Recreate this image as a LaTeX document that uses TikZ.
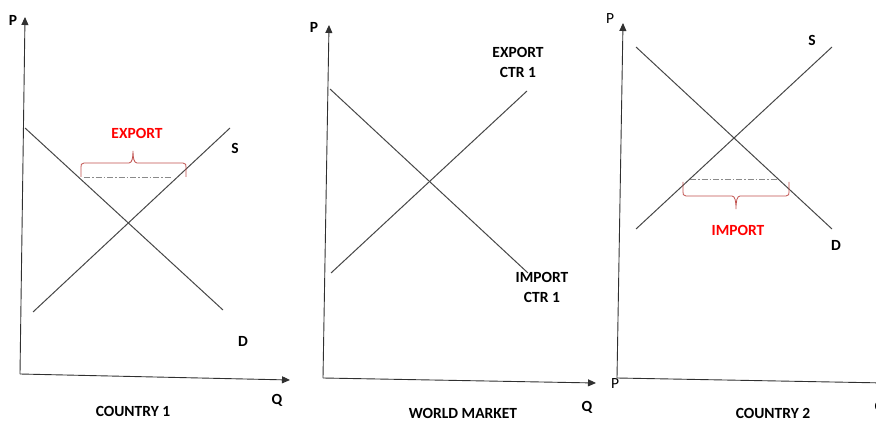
\documentclass[tikz,border=0pt]{standalone}
\usepackage{fontspec}
\setmainfont{Carlito}
\usetikzlibrary{arrows.meta}
\definecolor{curve}{HTML}{474747}
\definecolor{axisc}{HTML}{303030}
\definecolor{bracec}{HTML}{C0504D}
\definecolor{dashc}{HTML}{8A8A8A}
\begin{document}
\begin{tikzpicture}[x=1pt,y=-1pt,
  lbl/.style={inner sep=0pt,font=\fontsize{15.5}{20}\selectfont\bfseries,align=center},
  plain/.style={inner sep=0pt,font=\fontsize{15.5}{20}\selectfont},
  redlbl/.style={lbl,text=red},
  axis/.style={draw=axisc,line width=0.9pt,-{Triangle[length=8pt,width=7pt]}},
  curveline/.style={draw=curve,line width=1pt},
  bracel/.style={draw=bracec,line width=0.8pt},
  dashl/.style={draw=dashc,line width=1pt,dash pattern=on 6pt off 2pt on 1.5pt off 2pt}]
\useasboundingbox (0,0) rectangle (876,422);
% ---------- Panel 1: Country 1 ----------
\coordinate (o1) at (20,374);
\coordinate (py1) at (25,17);
\coordinate (qx1) at (290,380);
\draw[axis] (o1) -- (py1);
\draw[axis] (o1) -- (qx1);
\coordinate (d1a) at (25,128);  \coordinate (d1b) at (223,310);
\coordinate (s1a) at (33,312);  \coordinate (s1b) at (230,128);
\draw[curveline] (d1a) -- (d1b);
\draw[curveline] (s1a) -- (s1b);
\coordinate (x1a) at (84,178); \coordinate (x1b) at (172,178);
\draw[dashl] (x1a) -- (x1b);
\draw[bracel] (81,177) -- (81,167) .. controls (81,164) .. (84,163) -- (129,163)
  .. controls (132,163) and (133,158) .. (133,151)
  .. controls (133,158) and (134,163) .. (137,163) -- (183,163)
  .. controls (186,164) .. (186,167) -- (186,177);
\node[lbl] (P1) at (13,20) {P};
\node[lbl] (S1) at (235,148) {S};
\node[lbl] (D1) at (243,341) {D};
\node[lbl] (Q1) at (277,400) {Q};
\node[lbl] (C1) at (133,411) {COUNTRY 1};
\node[redlbl] (E1) at (137,133) {EXPORT};
% ---------- Panel 2: World market ----------
\coordinate (o2) at (323,378);
\coordinate (py2) at (329,25);
\coordinate (qx2) at (596,383);
\draw[axis] (o2) -- (py2);
\draw[axis] (o2) -- (qx2);
\coordinate (d2a) at (330,89);  \coordinate (d2b) at (528,273);
\coordinate (s2a) at (331,273); \coordinate (s2b) at (527,91);
\draw[curveline] (d2a) -- (d2b);
\draw[curveline] (s2a) -- (s2b);
\node[lbl] (P2) at (314,27) {P};
\node[lbl] (EC) at (518,62) {EXPORT\\CTR 1};
\node[lbl] (IC) at (542,287) {IMPORT\\CTR 1};
\node[lbl] (Q2) at (587,407) {Q};
\node[lbl] (WM) at (463,413) {WORLD MARKET};
% ---------- Panel 3: Country 2 ----------
\coordinate (o3) at (617,378);
\coordinate (py3) at (623,23);
\coordinate (qx3) at (886,383);
\draw[axis] (o3) -- (py3);
\draw[axis] (o3) -- (qx3);
\coordinate (d3a) at (636,47);  \coordinate (d3b) at (832,229);
\coordinate (s3a) at (636,229); \coordinate (s3b) at (832,47);
\draw[curveline] (d3a) -- (d3b);
\draw[curveline] (s3a) -- (s3b);
\coordinate (x3a) at (690,180); \coordinate (x3b) at (778,180);
\draw[dashl] (x3a) -- (x3b);
\draw[bracel] (683,182) -- (683,192) .. controls (683,195) .. (686,196) -- (732,196)
  .. controls (735,196) and (736,201) .. (736,209)
  .. controls (736,201) and (737,196) .. (740,196) -- (786,196)
  .. controls (789,195) .. (789,192) -- (789,182);
\node[plain] (P3) at (610,19) {P};
\node[plain] (P3b) at (615,384) {P};
\node[lbl] (S3) at (812,40) {S};
\node[lbl] (D3) at (836,245) {D};
\node[redlbl] (I3) at (738,230) {IMPORT};
\node[lbl] (C2) at (773,413) {COUNTRY 2};
\node[lbl] (Q3) at (880,407) {Q};
\end{tikzpicture}
\end{document}
